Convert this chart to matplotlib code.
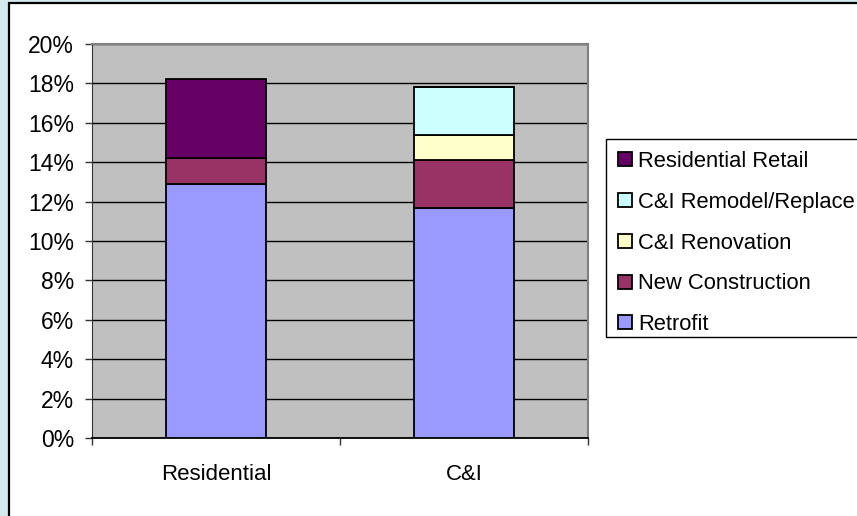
import matplotlib.pyplot as plt
from matplotlib.patches import Rectangle
from matplotlib.ticker import FixedLocator, PercentFormatter

plt.rcParams['font.family'] = ['Liberation Sans', 'DejaVu Sans']

categories = ["Residential", "C&I"]
series_names = ["Retrofit", "New Construction", "C&I Renovation",
                "C&I Remodel/Replace", "Residential Retail"]
retrofit = [12.9, 11.7]
new_construction = [1.3, 2.4]
ci_renovation = [0.0, 1.3]
ci_remodel = [0.0, 2.4]
res_retail = [4.0, 0.0]
series_values = [retrofit, new_construction, ci_renovation, ci_remodel, res_retail]
colors = ["#9999FF", "#993366", "#FFFFCC", "#CCFFFF", "#660066"]

W, H = 857, 516
fig = plt.figure(figsize=(W / 100, H / 100), dpi=100, facecolor="#D2E9EE")

# white chart area with black frame (top/left edges visible)
frame = Rectangle((8.5 / W, -0.05), 1.1, 1 - 3.5 / H + 0.05, transform=fig.transFigure,
                  facecolor="white", edgecolor="black", linewidth=1.6, zorder=-5)
fig.patches.append(frame)

# legend box (runs off the right edge like the original)
leg_box = Rectangle((606 / W, 1 - 337 / H), 0.5, (337 - 139) / H, transform=fig.transFigure,
                    facecolor="white", edgecolor="black", linewidth=1.0, zorder=-4)
fig.patches.append(leg_box)

ax = fig.add_axes([92 / W, 1 - 438 / H, (588 - 92) / W, (438 - 44) / H])
ax.set_zorder(1)
ax.set_facecolor("#C0C0C0")

x = list(range(len(categories)))
bottoms = [0.0] * len(categories)
handles = []
for name, vals, col in zip(series_names, series_values, colors):
    bars = ax.bar(x, vals, width=0.4, bottom=bottoms, color=col,
                  edgecolor="black", linewidth=1.3, label=name, zorder=3)
    handles.append(bars)
    bottoms = [b + v for b, v in zip(bottoms, vals)]

ax.set_ylim(0, 20)
ax.set_xlim(-0.5, 1.5)
ax.yaxis.set_major_locator(FixedLocator(range(0, 21, 2)))
ax.yaxis.set_major_formatter(PercentFormatter(decimals=0))
ax.grid(axis="y", color="black", linewidth=1.0, zorder=1)
ax.set_axisbelow(True)

ax.xaxis.set_major_locator(FixedLocator([-0.5, 0.5, 1.5]))
ax.xaxis.set_major_formatter(plt.NullFormatter())
ax.xaxis.set_minor_locator(FixedLocator(x))
ax.xaxis.set_minor_formatter(plt.FixedFormatter(categories))
ax.tick_params(axis="x", which="major", direction="out", length=5, width=1, color="#333333")
ax.tick_params(axis="x", which="minor", length=0, pad=19, labelsize=16)
ax.tick_params(axis="y", direction="out", length=5, width=1, color="#333333",
               pad=8, labelsize=16.5)

for s in ["top", "right"]:
    ax.spines[s].set_color("#808080")
    ax.spines[s].set_linewidth(1.5)
ax.spines["left"].set_color("#333333")
ax.spines["bottom"].set_color("black")
ax.spines["bottom"].set_linewidth(1.3)

leg = fig.legend(handles[::-1], series_names[::-1], loc="upper left",
                 bbox_to_anchor=(606 / W, 1 - 139 / H), fontsize=15.8,
                 frameon=False, handlelength=0.65, handleheight=0.6, handletextpad=0.25,
                 labelspacing=0.9, borderpad=0.55, borderaxespad=0)

fig.savefig("out.png", dpi=100, facecolor=fig.get_facecolor())
